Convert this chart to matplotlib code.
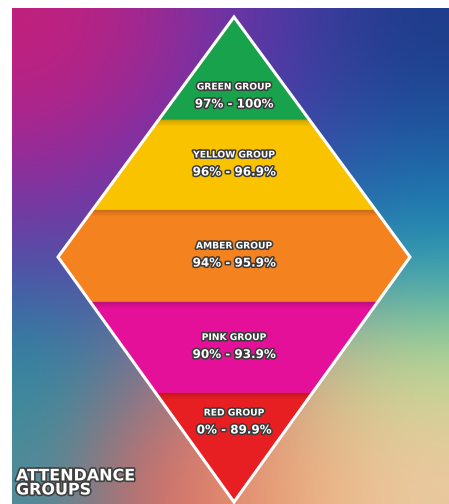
import numpy as np
import matplotlib.pyplot as plt
import matplotlib.patheffects as pe
from matplotlib.patches import Polygon
from matplotlib.colors import to_rgb

# attendance bands, top to bottom
groups = ["GREEN GROUP", "YELLOW GROUP", "AMBER GROUP", "PINK GROUP", "RED GROUP"]
ranges = ["97% - 100%", "96% - 96.9%", "94% - 95.9%", "90% - 93.9%", "0% - 89.9%"]
colors = ["#19a24c", "#f9c300", "#f4821f", "#e5109a", "#e71f22"]
title = "ATTENDANCE\nGROUPS"

# layout (pixels)
W, H = 449, 504
top, left, right, bottom = (234, 17), (58, 257), (410, 257), (234, 502)
edges = [17, 120, 210, 302, 393, 502]

# background colour anchors (rows top->bottom, cols left->right)
bg = [
    ["#c2207c", "#a5288f", "#6c34a8", "#3c3c9e", "#1e3c8a"],
    ["#9a2a9a", "#7c30a8", "#5a3ab0", "#3052a8", "#1f62a8"],
    ["#5248aa", "#5048a8", "#4a60b0", "#2a84b2", "#1f98b8"],
    ["#2a8aa0", "#6a7a98", "#c07c80", "#c8c090", "#b8dc8c"],
    ["#4e8c9a", "#d06868", "#e48a6c", "#ecb484", "#ecc8a0"],
]

fig = plt.figure(figsize=(W / 100, H / 100), dpi=100, facecolor="white")
ax = fig.add_axes([0, 0, 1, 1])
ax.set_xlim(0, W)
ax.set_ylim(H, 0)
ax.axis("off")

img = np.array([[to_rgb(c) for c in row] for row in bg])
ax.imshow(img, extent=(12, W, H, 8), interpolation="bicubic", aspect="auto", zorder=0)

diamond = Polygon([top, right, bottom, left], closed=True, facecolor="none",
                  edgecolor="white", lw=2.2, zorder=5)
ax.add_patch(diamond)
clip = Polygon([top, right, bottom, left], closed=True, transform=ax.transData)

for i, c in enumerate(colors):
    y0, y1 = edges[i], edges[i + 1]
    band = ax.axhspan(y0, y1, color=c, zorder=2)
    band.set_clip_path(clip)
    if i > 0:
        # soft shadow from the band above
        for k in range(6):
            s = ax.axhspan(y0 + k, y0 + k + 1, color="black", alpha=0.16 * (1 - k / 6), lw=0, zorder=3)
            s.set_clip_path(clip)

stroke = [pe.withStroke(linewidth=2.2, foreground="#3a3a3a")]
for i, (g, r) in enumerate(zip(groups, ranges)):
    y0, y1 = edges[i], edges[i + 1]
    if i == 0:
        yc = 95
    elif i == len(groups) - 1:
        yc = 421
    else:
        yc = (y0 + y1) / 2 - 2
    ax.text(234, yc - 8, g, ha="center", va="center", color="white", fontsize=6.6,
            fontweight="bold", path_effects=stroke, zorder=6)
    ax.text(234, yc + 9, r, ha="center", va="center", color="white", fontsize=8.6,
            fontweight="bold", path_effects=stroke, zorder=6)

ax.text(16, 483, title, ha="left", va="center", color="white", fontsize=11.5,
        fontweight="bold", linespacing=0.92,
        path_effects=[pe.withStroke(linewidth=2.4, foreground="#404040")], zorder=6)

fig.savefig("out.png", dpi=100, facecolor="white")
